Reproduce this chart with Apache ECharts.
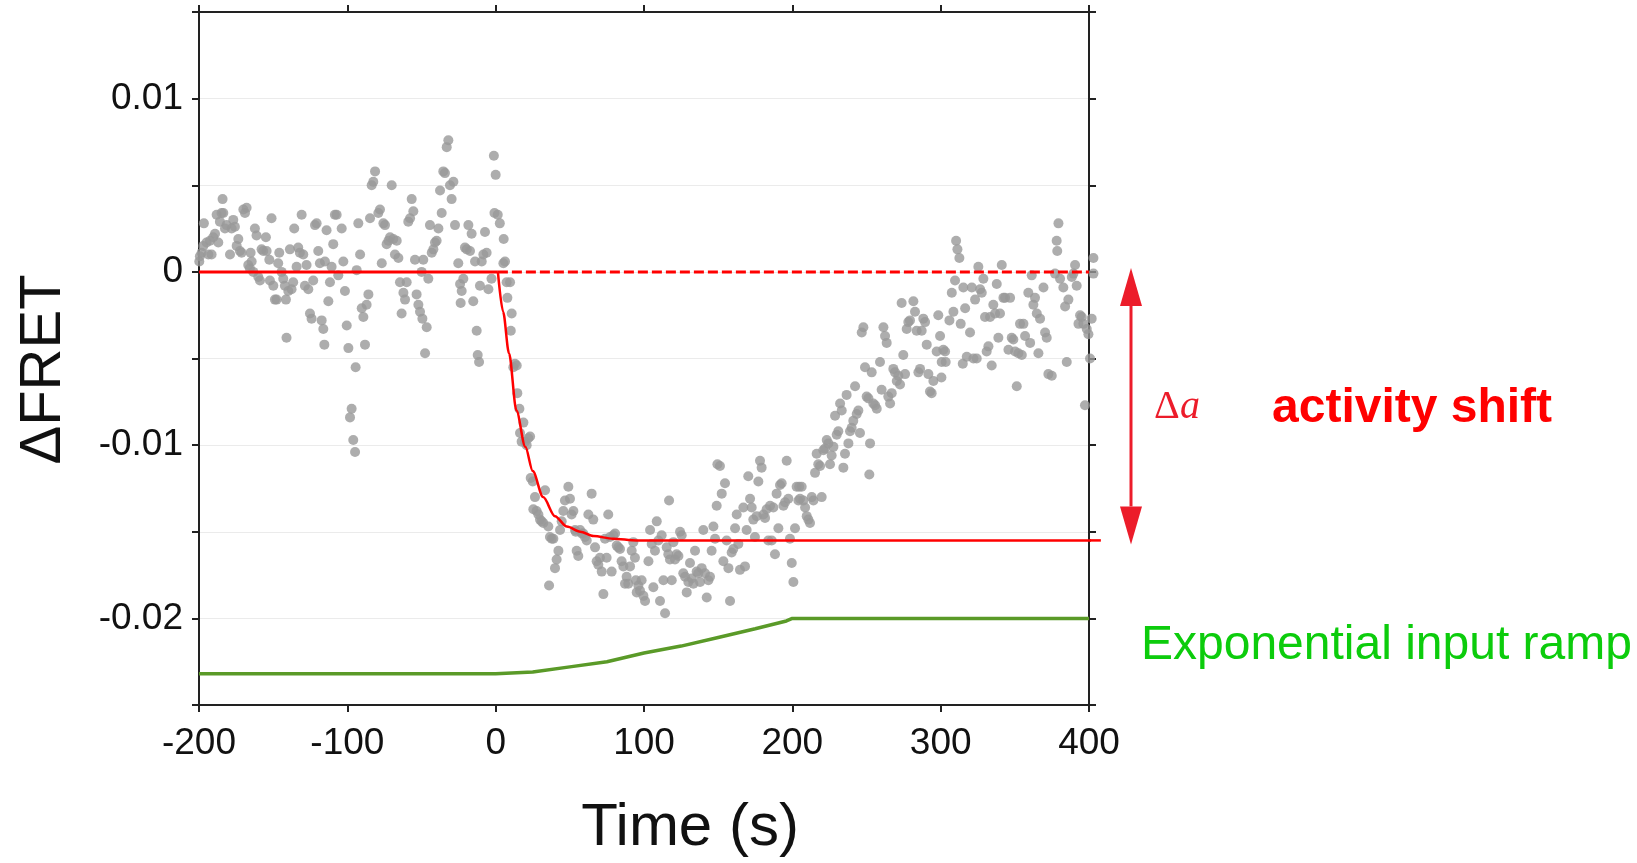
<!DOCTYPE html>
<html>
<head>
<meta charset="utf-8">
<title>ΔFRET response to an exponential input ramp</title>
<script src="https://cdn.jsdelivr.net/npm/echarts@6/dist/echarts.min.js"></script>
<style>
  html, body { margin: 0; padding: 0; background: #ffffff; }
  #chart { width: 1637px; height: 863px; }
</style>
</head>
<body>
<div id="chart"></div>
<script>
// Measured ΔFRET signal, [time (s), ΔFRET]
const fretPoints = [
  [-199.8,0.0006],[-199.4,0.0009],[-198.2,0.0011],[-197.1,0.0015],[-196.7,0.0028],[-194.9,0.0017],[-193.7,0.0010],[-192.6,0.0018],
  [-191.5,0.0010],[-190.4,0.0020],[-189.2,0.0022],[-188.1,0.0033],[-187,0.0017],[-185.9,0.0029],[-184.8,0.0034],[-184.1,0.0042],
  [-183.6,0.0034],[-182.5,0.0025],[-181.4,0.0027],[-179.1,0.0010],[-178,0.0025],[-176.9,0.0030],[-175.8,0.0026],[-174.6,0.0015],
  [-173.5,0.0019],[-172.4,0.0012],[-171.3,0.0011],[-170.1,0.0036],[-169,0.0034],[-167.9,0.0037],[-166.8,0.0004],[-165.7,0.0002],
  [-165.2,0.0011],[-164.5,0.0006],[-163.4,0],[-162.3,0.0025],[-161.2,0.0021],[-160,-0.0003],[-158.9,-0.0005],[-157.8,0.0013],
  [-156.7,0.0012],[-154.9,0.0020],[-154.4,0.0012],[-152.6,0.0007],[-152.2,-0.0005],[-151.1,0.0031],[-149.9,-0.0008],[-148.8,-0.0016],
  [-147.7,-0.0016],[-146.6,0.0005],[-145.9,0.0011],[-144.3,0],[-143.2,-0.0004],[-142.1,-0.0008],[-141.4,-0.0016],[-141,-0.0038],
  [-139.8,-0.0011],[-138.7,0.0013],[-137.6,-0.0010],[-136.5,-0.0006],[-135.8,0.0025],[-134.2,0.0003],[-133.1,0.0014],[-132,0.0011],
  [-130.8,0.0033],[-129.7,0.0010],[-128.6,-0.0008],[-127.5,0.0004],[-126.3,-0.0010],[-125.2,-0.0024],[-124.1,-0.0027],[-123,-0.0005],
  [-121.8,0.0027],[-120.7,0.0028],[-119.6,0.0012],[-118.5,0.0005],[-117.3,-0.0028],[-116.2,-0.0033],[-115.5,-0.0042],[-115.1,0.0006],
  [-114,0.0024],[-112.8,-0.0017],[-111.7,-0.0006],[-110.6,0.0003],[-109.5,0.0016],[-108.4,0.0033],[-107.2,0.0033],[-106.1,-0.0002],
  [-103.8,0.0025],[-102.7,0.0006],[-101.6,-0.0011],[-100.4,-0.0031],[-99.3,-0.0044],[-98.2,-0.0084],[-97.1,-0.0079],[-96,-0.0097],
  [-94.8,-0.0104],[-94.4,-0.0055],[-93.7,0.0001],[-92.6,0.0028],[-91.4,0.0010],[-90.3,-0.0021],[-89.2,-0.0026],[-88.1,-0.0042],
  [-87,-0.0019],[-85.8,-0.0013],[-84.7,0.0031],[-83.6,0.0050],[-82.5,0.0052],[-81.3,0.0058],[-79.1,0.0034],[-78,0.0036],
  [-76.8,0.0005],[-75.7,0.0028],[-74.6,0.0027],[-73.5,0.0016],[-72.3,0.0018],[-71.2,0.0020],[-70.1,0.0050],[-69,0.0019],
  [-67.9,0.0010],[-66.7,0.0018],[-65.6,0.0008],[-64.5,-0.0006],[-63.4,-0.0024],[-62.2,-0.0012],[-61.1,-0.0016],[-60,-0.0006],
  [-58.9,0.0029],[-57.7,0.0031],[-56.6,0.0042],[-55.5,0.0035],[-54.4,0.0007],[-53.3,-0.0013],[-52.1,-0.0019],[-51,-0.0023],
  [-49.9,0],[-49.4,-0.0027],[-48.8,0.0007],[-47.6,-0.0047],[-46.5,-0.0032],[-45.4,-0.0004],[-44.3,0.0027],[-43.1,0.0011],
  [-42,0.0013],[-40.9,0.0017],[-39.8,0.0018],[-38.6,0.0025],[-37.5,0.0047],[-36.4,0.0034],[-35.3,0.0058],[-34.2,0.0057],
  [-33,0.0072],[-31.9,0.0076],[-30.8,0.0050],[-29.7,0.0042],[-28.5,0.0052],[-27.4,0.0027],[-25.2,0.0005],[-24,-0.0007],
  [-23.6,-0.0018],[-22.9,-0.0011],[-21.8,-0.0004],[-20.7,0.0014],[-19.5,0.0013],[-18.4,0.0027],[-17.3,0.0012],[-16.2,0.0022],
  [-15.1,-0.0017],[-13.9,0.0006],[-12.8,-0.0034],[-12.1,-0.0048],[-11.2,-0.0052],[-10.6,-0.0008],[-9.4,0.0006],[-8.3,0.0010],
  [-7.2,0.0023],[-6.1,0.0011],[-4.9,-0.0010],[-2.8,-0.0004],[-1.2,0.0067],[0,0.0056],[-0.8,0.0034],[1.4,0.0033],
  [2.8,0.0028],[5.4,0.0019],
  [5.2,0.0005],[6.3,0.0006],[7.4,-0.0006],[7.9,-0.0015],[9.7,-0.0006],[10.2,-0.0034],[10.8,-0.0024],[11.9,-0.0055],
  [13.0,-0.0053],[14.2,-0.0054],[14.6,-0.0070],[16.0,-0.0079],[16.4,-0.0093],[17.5,-0.0098],[18.7,-0.0087],[19.8,-0.0098],
  [20.9,-0.0100],[22.0,-0.0096],[23.2,-0.0095],[23.6,-0.0119],[25.0,-0.0121],[25.4,-0.0137],[26.5,-0.0130],[27.6,-0.0138],
  [28.8,-0.0140],[29.9,-0.0143],[31.0,-0.0144],[32.1,-0.0145],[33.3,-0.0126],[35.5,-0.0147],[36.0,-0.0181],[36.6,-0.0153],
  [37.8,-0.0154],[38.9,-0.0154],[40.0,-0.0171],[41.1,-0.0166],[42.3,-0.0161],[43.4,-0.0149],[44.5,-0.0144],[45.6,-0.0138],
  [46.7,-0.0132],[49.0,-0.0124],[50.1,-0.0131],[51.2,-0.0140],[52.4,-0.0138],[53.5,-0.0149],[54.0,-0.0150],[54.6,-0.0161],
  [55.7,-0.0164],[56.9,-0.0149],[58.0,-0.0151],[59.1,-0.0151],[60.2,-0.0153],[61.4,-0.0155],[62.5,-0.0140],[64.7,-0.0128],
  [65.8,-0.0143],[67.0,-0.0159],[68.1,-0.0167],[69.2,-0.0169],[70.3,-0.0165],[71.5,-0.0173],[72.6,-0.0186],[73.7,-0.0154],
  [74.8,-0.0165],[75.9,-0.0140],[77.1,-0.0153],[78.2,-0.0173],[79.3,-0.0152],[80.5,-0.0151],[81.6,-0.0158],[82.7,-0.0159],
  [83.8,-0.0160],[84.9,-0.0167],[86.1,-0.0170],[87.2,-0.0180],[88.3,-0.0176],[89.4,-0.0180],[90.6,-0.0170],[91.7,-0.0161],
  [92.8,-0.0156],[93.9,-0.0165],[94.5,-0.0178],[95.1,-0.0185],[96.2,-0.0181],
  [97.3,-0.0184],[98.4,-0.0178],[99.6,-0.0187],[100.7,-0.0190],[103.0,-0.0167],[104.1,-0.0149],[105.2,-0.0157],[106.3,-0.0182],
  [107.4,-0.0161],[108.6,-0.0144],[109.7,-0.0155],[110.8,-0.0190],[111.9,-0.0152],[113.1,-0.0178],[114.2,-0.0197],[115.3,-0.0159],
  [116.4,-0.0163],[116.9,-0.0132],[117.5,-0.0166],[118.7,-0.0178],[119.8,-0.0156],[120.9,-0.0166],[122.0,-0.0163],[123.2,-0.0164],
  [124.3,-0.0150],[125.4,-0.0152],[126.5,-0.0174],[127.7,-0.0176],[128.8,-0.0185],[129.9,-0.0179],[131.0,-0.0168],[132.1,-0.0177],
  [133.3,-0.0180],[134.4,-0.0161],[135.5,-0.0173],[136.6,-0.0174],[137.8,-0.0179],[138.9,-0.0171],[140.0,-0.0149],[141.1,-0.0174],
  [142.3,-0.0188],[143.4,-0.0178],[144.5,-0.0176],[145.6,-0.0161],[146.8,-0.0147],[147.9,-0.0154],[149.0,-0.0135],[149.5,-0.0111],
  [151.2,-0.0112],[152.4,-0.0128],[153.5,-0.0167],[154.6,-0.0122],[155.7,-0.0155],[156.9,-0.0171],[158.0,-0.0190],[159.1,-0.0162],
  [160.2,-0.0160],[161.4,-0.0148],[162.5,-0.0140],[163.6,-0.0157],[164.7,-0.0172],[167.0,-0.0136],[168.1,-0.0170],[169.2,-0.0149],
  [170.3,-0.0118],[171.5,-0.0131],[172.6,-0.0136],[173.7,-0.0143],[174.8,-0.0153],[176.0,-0.0141],[177.1,-0.0121],[178.2,-0.0109],
  [179.3,-0.0113],[180.5,-0.0140],[181.6,-0.0142],[182.7,-0.0137],[183.8,-0.0155],[185.0,-0.0135],[186.1,-0.0155],[187.2,-0.0136],
  [188.3,-0.0163],[189.4,-0.0128],[190.6,-0.0148],[191.7,-0.0123],[192.8,-0.0122],[194.0,-0.0135],[195.1,-0.0133],[196.2,-0.0109],
  [197.3,-0.0131],[198.4,-0.0154],[199.6,-0.0168],[200.7,-0.0179],[201.8,-0.0148],[202.9,-0.0124],[204.1,-0.0132],
  [204.6,-0.0124],[205.2,-0.0131],[206.3,-0.0124],[207.4,-0.0132],[208.6,-0.0136],[209.7,-0.0141],[210.8,-0.0143],[211.9,-0.0145],
  [213.1,-0.0130],[214.2,-0.0132],[215.3,-0.0116],[216.4,-0.0105],[217.5,-0.0111],[218.7,-0.0112],[219.8,-0.0130],[220.9,-0.0103],
  [222.0,-0.0102],[223.2,-0.0097],[224.3,-0.0099],[225.4,-0.0111],[226.5,-0.0106],[227.7,-0.0101],[228.8,-0.0083],[229.9,-0.0094],
  [231.0,-0.0092],[232.2,-0.0076],[233.3,-0.0080],[234.4,-0.0113],[235.5,-0.0105],[236.6,-0.0071],[237.8,-0.0099],[238.9,-0.0092],
  [240.0,-0.0090],[241.1,-0.0086],[242.3,-0.0066],[243.4,-0.0082],[244.5,-0.0080],[245.6,-0.0093],[246.8,-0.0035],[247.9,-0.0032],
  [249.0,-0.0055],[250.1,-0.0072],[251.3,-0.0073],[251.9,-0.0117],[252.4,-0.0099],[253.5,-0.0058],[254.6,-0.0076],[255.8,-0.0077],
  [256.9,-0.0079],[259.1,-0.0052],[260.2,-0.0068],[261.4,-0.0032],[262.5,-0.0037],[263.6,-0.0041],[264.7,-0.0072],[265.9,-0.0076],
  [267.0,-0.0070],[268.1,-0.0056],[269.2,-0.0058],[270.4,-0.0063],[271.5,-0.0060],[272.6,-0.0065],[273.7,-0.0018],[274.8,-0.0048],
  [276.0,-0.0059],[277.1,-0.0033],[278.2,-0.0029],[279.3,-0.0028],[281.6,-0.0017],[282.7,-0.0023],[283.8,-0.0034],[285.0,-0.0058],
  [286.1,-0.0056],[287.2,-0.0034],[288.3,-0.0027],[289.5,-0.0029],[290.6,-0.0042],[291.7,-0.0059],[292.8,-0.0069],[293.9,-0.0070],
  [295.1,-0.0063],[297.3,-0.0046],[298.4,-0.0025],[299.6,-0.0037],[300.5,-0.0061],[300.7,-0.0052],[301.8,-0.0045],
  [303.0,-0.0046],[303.4,-0.0052],[305.9,-0.0028],[307.5,-0.0012],[308.6,-0.0023],[309.7,-0.0005],[310.4,0.0018],[311.3,0.0013],
  [312.6,0.0008],[313.5,-0.0030],[314.9,-0.0053],[315.3,-0.0009],[316.5,-0.0021],[317.6,-0.0049],[319.8,-0.0035],[321.0,-0.0009],
  [322.1,-0.0050],[323.2,-0.0016],[324.3,-0.0050],[325.4,0.0003],[326.6,-0.0010],[327.7,-0.0012],[328.8,-0.0004],[329.9,-0.0026],
  [331.0,-0.0046],[332.2,-0.0043],[333.3,-0.0026],[334.4,-0.0054],[335.5,-0.0019],[336.7,-0.0024],[337.8,-0.0007],[338.9,-0.0038],
  [340.0,-0.0024],[341.2,0.0004],[342.3,-0.0015],[343.4,-0.0015],[345.7,-0.0045],[346.8,-0.0015],[347.9,-0.0038],[349.0,-0.0039],
  [350.2,-0.0046],[351.3,-0.0066],[352.4,-0.0047],[353.5,-0.0030],[354.7,-0.0048],[355.8,-0.0030],[356.9,-0.0037],[359.1,-0.0012],
  [360.3,-0.0041],[361.4,-0.0002],[362.5,-0.0019],[363.6,-0.0015],[364.8,-0.0024],[365.9,-0.0047],[367.0,-0.0027],[369.3,-0.0009],
  [370.4,-0.0035],[371.5,-0.0038],[372.6,-0.0059],[374.9,-0.0060],[377.1,-0.0001],[378.2,0.0018],[378.6,0.0012],[379.4,0.0028],
  [380.5,-0.0004],[382.7,-0.0009],[383.9,-0.0020],[385.0,-0.0052],[386.1,-0.0016],[388.4,-0.0003],[389.5,-0.0001],[390.6,0.0004],
  [391.7,-0.0008],[392.9,-0.0030],[394.0,-0.0025],[395.1,-0.0026],[396.2,-0.0030],[397.3,-0.0077],[398.5,-0.0033],[399.6,-0.0036],
  [400.7,-0.0050],[401.8,-0.0027],[403.0,-0.0001],[403.0,0.0008]
];

// Pre-stimulus baseline of the fit (solid) and its continuation as a reference (dashed)
const baselineTime = [-200, 1.5];
const baselineFret = [0, 0];
const referenceTime = [1.5, 400];
const referenceFret = [0, 0];

// Fitted relaxation to the shifted activity level; the last point runs past the frame
const fitTime = [1.5, 5, 9, 14, 20, 25, 32, 40, 48, 57, 66, 79, 95, 400, 408];
const fitFret = [0, -0.0023, -0.0047, -0.0080, -0.0101, -0.0115, -0.0130, -0.0141, -0.0147, -0.0150, -0.01525, -0.0154, -0.0155, -0.0155, -0.0155];

// Exponential input ramp (drawn on the same ΔFRET scale, offset below the data)
const rampTime = [-200, 0, 25, 50, 75, 100, 125, 150, 175, 196, 200, 400];
const rampFret = [-0.0232, -0.0232, -0.0231, -0.0228, -0.0225, -0.0220, -0.0216, -0.0211, -0.0206, -0.02015, -0.0200, -0.0200];

// Axis tick values carrying a label
const yLabelTicks = [-0.02, -0.01, 0, 0.01];
const xTickValues = [-200, -100, 0, 100, 200, 300, 400];

// Time at which the Δa arrow is placed, right of the frame
const shiftArrowTime = 428;

const zip = (xs, ys) => xs.map((x, i) => [x, ys[i]]);

const AXIS_COLOR = '#222222';
const FONT = '"Liberation Sans", Arial, Helvetica, sans-serif';
const FIT_RED = '#ff0000';

const chart = echarts.init(document.getElementById('chart'), null, { renderer: 'canvas' });

const yLabel = (v) => {
  const hit = yLabelTicks.find((t) => Math.abs(t - v) < 1e-9);
  return hit === undefined ? '' : String(hit);
};

const boxAxis = (extra) => Object.assign({
  type: 'value',
  axisLine: { show: true, onZero: false, lineStyle: { color: AXIS_COLOR, width: 2 } },
  axisTick: { show: true, inside: false, length: 7, lineStyle: { color: AXIS_COLOR, width: 2 } },
  splitLine: { show: false }
}, extra);

chart.setOption({
  animation: false,
  backgroundColor: '#ffffff',
  textStyle: { fontFamily: FONT },
  grid: { left: 199, right: 548, top: 12, bottom: 153, containLabel: false },
  xAxis: [
    boxAxis({
      position: 'bottom',
      min: xTickValues[0], max: xTickValues[xTickValues.length - 1], interval: 100,
      axisLabel: { fontSize: 37, color: '#111111', margin: 20, fontFamily: FONT },
      name: 'Time (s)',
      nameLocation: 'middle',
      nameGap: 93,
      nameTextStyle: { fontSize: 60, color: '#111111', fontFamily: FONT, padding: [0, 0, 0, 92] }
    }),
    boxAxis({
      position: 'top',
      min: xTickValues[0], max: xTickValues[xTickValues.length - 1], interval: 100,
      axisLabel: { show: false }
    })
  ],
  yAxis: [
    boxAxis({
      position: 'left',
      min: -0.025, max: 0.015, interval: 0.005,
      axisLabel: { fontSize: 37, color: '#111111', margin: 16, fontFamily: FONT, formatter: yLabel },
      splitLine: { show: true, lineStyle: { color: '#ebebeb', width: 1 } },
      name: 'ΔFRET',
      nameLocation: 'middle',
      nameGap: 126,
      nameRotate: 90,
      nameTextStyle: { fontSize: 58, color: '#111111', fontFamily: FONT, padding: [0, 22, 0, 0] }
    }),
    boxAxis({
      position: 'right',
      min: -0.025, max: 0.015, interval: 0.005,
      axisLabel: { show: false }
    })
  ],
  series: [
    {
      name: 'ΔFRET',
      type: 'scatter',
      data: fretPoints,
      symbol: 'circle',
      symbolSize: 10,
      clip: false,
      itemStyle: { color: '#999999' },
      z: 2
    },
    {
      name: 'baseline',
      type: 'line',
      data: zip(baselineTime, baselineFret),
      showSymbol: false,
      lineStyle: { color: FIT_RED, width: 3 },
      z: 3
    },
    {
      name: 'reference',
      type: 'line',
      data: zip(referenceTime, referenceFret),
      showSymbol: false,
      lineStyle: { color: FIT_RED, width: 3, type: [10, 4] },
      z: 3
    },
    {
      name: 'fit',
      type: 'line',
      data: zip(fitTime, fitFret),
      showSymbol: false,
      smooth: 0.3,
      smoothMonotone: 'x',
      clip: false,
      lineStyle: { color: FIT_RED, width: 2.5 },
      z: 3
    },
    {
      name: 'input ramp',
      type: 'line',
      data: zip(rampTime, rampFret),
      showSymbol: false,
      lineStyle: { color: '#5a9a28', width: 3.5 },
      z: 3
    }
  ]
});

// Double-headed arrow spanning the activity shift, plus annotations
const px = (t, v) => chart.convertToPixel({ gridIndex: 0 }, [t, v]);
const arrowTop = px(shiftArrowTime, fitFret[0]);
const arrowBot = px(shiftArrowTime, fitFret[fitFret.length - 1]);
const ax = Math.round(arrowTop[0]);
const headLen = 38, headHalf = 11;
const ARROW = '#ec1c2a';

// Fit tail beyond the right frame, through the same scale
const n = fitTime.length;
const tailStart = px(fitTime[n - 2], fitFret[n - 2]);
const tailEnd = px(fitTime[n - 1], fitFret[n - 1]);

const label = (x, y, text, font, fill) => ({
  type: 'text',
  x: x, y: y,
  style: {
    text: text, font: font, fill: fill,
    align: 'left', verticalAlign: 'middle',
    textAlign: 'left', textVerticalAlign: 'middle'
  }
});

chart.setOption({
  graphic: [
    {
      type: 'line',
      shape: { x1: tailStart[0], y1: tailStart[1], x2: tailEnd[0], y2: tailEnd[1] },
      style: { stroke: FIT_RED, lineWidth: 2.5 }
    },
    {
      type: 'line',
      shape: { x1: ax, y1: arrowTop[1] + headLen - 4, x2: ax, y2: arrowBot[1] - headLen + 4 },
      style: { stroke: ARROW, lineWidth: 3 }
    },
    {
      type: 'polygon',
      shape: { points: [[ax, arrowTop[1] - 4], [ax - headHalf, arrowTop[1] + headLen - 4], [ax + headHalf, arrowTop[1] + headLen - 4]] },
      style: { fill: ARROW }
    },
    {
      type: 'polygon',
      shape: { points: [[ax, arrowBot[1] + 4], [ax - headHalf, arrowBot[1] - headLen + 4], [ax + headHalf, arrowBot[1] - headLen + 4]] },
      style: { fill: ARROW }
    },
    label(1154, 407, 'Δ', '40px "Liberation Serif", "Times New Roman", serif', ARROW),
    label(1180, 407, 'a', 'italic 40px "Liberation Serif", "Times New Roman", serif', ARROW),
    label(1272, 409, 'activity shift', 'bold 48px "Liberation Sans", Arial, sans-serif', '#ff0000'),
    label(1141, 646, 'Exponential input ramp', '48px "Liberation Sans", Arial, sans-serif', '#0ccc0c')
  ]
});
</script>
</body>
</html>
